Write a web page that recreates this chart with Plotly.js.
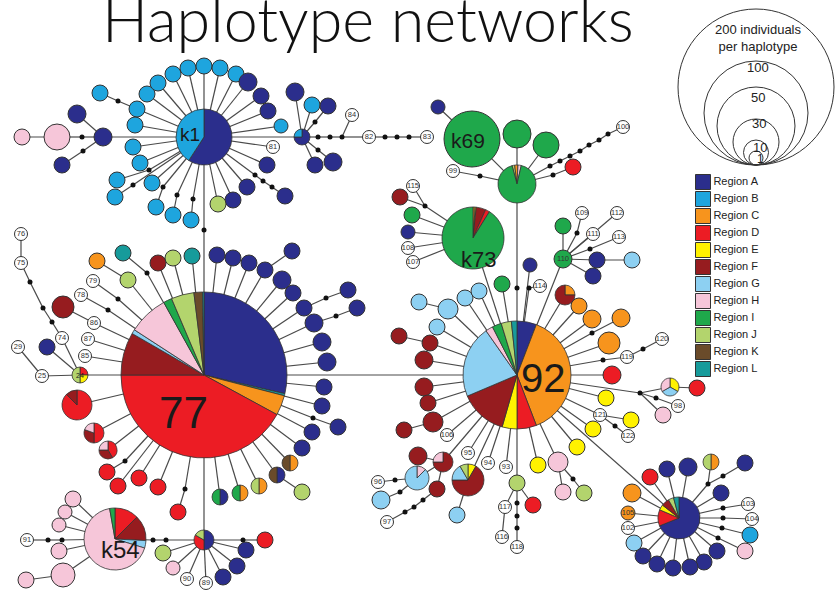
<!DOCTYPE html>
<html><head><meta charset="utf-8">
<script src="https://cdn.plot.ly/plotly-3.0.1.min.js"></script>
<style>html,body{margin:0;padding:0;background:#fff}#chart{width:836px;height:592px}</style>
</head><body><div id="chart"></div>
<script>
// ---------- DATA ----------
const regionCodes = ['A','B','C','D','E','F','G','H','I','J','K','L'];
const regionNames = ['Region A','Region B','Region C','Region D','Region E','Region F','Region G','Region H','Region I','Region J','Region K','Region L'];
const regionColors = ['#2b2e8c','#1ea5de','#f7941d','#ec1c24','#fff200','#961c1f','#8dd0f2','#f6c6d9','#1fa84b','#b3d46d','#6a4b2a','#179b9b'];

const sizeLegendLabels = ['200 individuals<br>per haplotype','100','50','30','10','1'];
const sizeLegendCounts = [200,100,50,30,10,1];
const sizeLegendRadii = [78,52,39,23,12.5,7];

// node rows: [id, x, y, radius, kind, parent, label]   kind: region code, 'P' pie, 'W' numbered empty, '.' mutation
const hubNodes = [
 ['h77',204,375,83,'P',null],
 ['h92',517,375,54,'P','h77'],
 ['k1d1',204,230,0,'.','h77'],
 ['k1',204,137,28,'P','k1d1'],
 ['d92a',517,288,0,'.','h92'],
 ['hub3',517,184,19,'P','d92a'],
 ['k69',472,139,28,'I','hub3'],
 ['k73',473,238,31,'P','h92'],
 ['hbr',679,518,21,'P','h92'],
 ['hub540',204,540,10,'P','h77'],
 ['d540b',166,540,0,'.','hub540'],
 ['d540a',153,540,0,'.','d540b'],
 ['k54',115,539,31,'P','d540a'],
 ['hub24',80,375,8,'P','h77'],
 ['hub2',302,137,8,'P','k1']
];
const k1Nodes = [
 ['b1',137,109,8,'B','k1'],['b1a',118,101,0,'.','b1'],['b1b',100,93,8,'B','b1a'],
 ['b2',147,94,8,'B','k1'],['b3',158,83,8,'B','k1'],['b4',173,74,8,'B','k1'],['b5',188,68,8,'B','k1'],
 ['b6',204,66,8,'B','k1'],['b7',220,68,8,'B','k1'],['b8',236,74,8,'B','k1'],
 ['a1',248,82,9,'A','k1'],['a2',261,96,8,'A','k1'],['a3',268,111,8,'A','k1'],
 ['b9',281,126,7,'B','k1'],['w81',273,147,6.5,'W','k1','81'],
 ['a4',267,165,8,'A','k1'],['a5',247,187,8,'A','k1'],
 ['a6d1',255,175,0,'.','k1'],['a6d2',263,181,0,'.','a6d1'],['a6d3',272,187,0,'.','a6d2'],['a6',285,196,8,'A','a6d3'],
 ['a7',233,200,8,'A','k1'],['j1',218,204,8,'J','k1'],
 ['b10d',193,199,0,'.','k1'],['b10',191,220,8,'B','b10d'],
 ['b11d',177,195,0,'.','k1'],['b11',173,215,8,'B','b11d'],
 ['b12d',163,187,0,'.','k1'],['b12',156,207,8,'B','b12d'],
 ['b13',152,183,8,'B','k1'],
 ['b14d',133,185,0,'.','k1'],['b14',115,197,8,'B','b14d'],
 ['b15',140,163,8,'B','k1'],
 ['b16d',149,170,0,'.','k1'],['b16',117,180,8,'B','b16d'],
 ['b17',135,125,8,'B','k1'],['b18',133,147,8,'B','k1'],
 ['a8',103,137,9,'A','k1'],['a9',77,114,9,'A','a8'],
 ['a10d',83,151,0,'.','a8'],['a10',62,165,8,'A','a10d'],
 ['k1l1',82,137,0,'.','a8'],['h1',57,137,13,'H','k1l1'],['h2',22,137,8,'H','h1'],
 ['a11',295,92,9,'A','hub2'],['b19',312,105,8,'B','hub2'],
 ['a12d',315,122,0,'.','hub2'],['a12',328,106,8,'A','a12d'],
 ['a13',315,165,8,'A','hub2'],['a14d',318,150,0,'.','hub2'],['a14',333,162,9,'A','a14d'],
 ['h2d1',318,137,0,'.','hub2'],['h2d2',330,137,0,'.','h2d1'],['h2d3',342,137,0,'.','h2d2'],
 ['w84',352,115,6.5,'W','h2d3','84'],['w82',369,137,6.5,'W','h2d3','82'],
 ['h2d4',385,137,0,'.','w82'],['h2d5',397,137,0,'.','h2d4'],['h2d6',409,137,0,'.','h2d5'],
 ['w83',427,137,6.5,'W','h2d6','83']
];
const k69Nodes = [
 ['a15',438,107,7,'A','k69'],
 ['i1',517,134,14,'I','hub3'],['i2',546,145,13,'I','hub3'],
 ['d99',480,176,0,'.','hub3'],['w99',453,171,6.5,'W','d99','99'],
 ['q1',550,166,0,'.','hub3'],['q2',560,161,0,'.','q1'],['q3',570,156,0,'.','q2'],['q4',580,151,0,'.','q3'],
 ['q5',589,145,0,'.','q4'],['q6',599,140,0,'.','q5'],['q7',608,134,0,'.','q6'],['w100',623,127,6.5,'W','q7','100'],
 ['dr1d',553,175,0,'.','hub3'],['d1',573,167,8,'D','dr1d']
];
const k73Nodes = [
 ['d115',425,206,0,'.','k73'],['w115',413,186,6.5,'W','d115','115'],['f1',400,197,8,'F','d115'],
 ['i3',412,215,8,'I','k73'],['a16',408,232,7,'A','k73'],
 ['w108',408,248,6.5,'W','k73','108'],['w107',413,262,6.5,'W','k73','107'],
 ['h110',563,259,9,'I','h92','110'],['i4',563,226,8,'I','h110'],
 ['d109',577,233,0,'.','h110'],['w109',582,213,6.5,'W','d109','109'],
 ['w112',617,213,6.5,'W','h110','112'],['w111',593,234,6.5,'W','h110','111'],
 ['d113',590,249,0,'.','h110'],['w113',619,237,6.5,'W','d113','113'],
 ['a17',597,260,8,'A','h110'],['g1',632,260,8,'G','a17'],['a18',593,276,8,'A','h110']
];
const n92Nodes = [
 ['a19',530,265,7,'A','h92'],['i5',502,284,8,'I','h92'],
 ['d114',529,288,0,'.','h92'],['w114',540,286,6.5,'W','d114','114'],
 ['fc1',565,295,10,'P','h92'],['c1',579,306,8,'C','h92'],['c2',592,319,9,'C','h92'],
 ['c3d',592,333,0,'.','h92'],['c3',621,318,9,'C','c3d'],['c4',609,343,11,'C','h92'],
 ['d119',603,360,0,'.','h92'],['w119',627,357,6.5,'W','d119','119'],['d120',643,349,0,'.','w119'],['w120',662,339,6.5,'W','d120','120'],
 ['d2',612,375,9,'D','h92'],
 ['d98a',640,393,0,'.','h92'],['heg',670,387,9,'P','d98a'],['d3',697,388,8,'D','heg'],
 ['d98b',656,398,0,'.','d98a'],['w98',678,406,6.5,'W','d98b','98'],['h3',663,415,8,'H','d98a'],
 ['e1',606,398,8,'E','h92'],
 ['w121',600,415,6.5,'W','h92','121'],['e2',631,420,8,'E','w121'],['d122',615,426,0,'.','w121'],['w122',628,436,6.5,'W','d122','122'],
 ['e3',593,429,8,'E','h92'],['e4',577,447,8,'E','h92'],['e5',538,465,8,'E','h92'],
 ['h4',558,462,10,'H','h92'],['h5',563,492,8,'H','h4'],['dj',573,479,0,'.','h4'],['j2',584,493,8,'J','dj'],
 ['j3',517,483,8,'J','h92'],['w117',505,507,6.5,'W','j3','117'],['w116',502,537,6.5,'W','w117','116'],['d4',533,505,8,'D','j3'],
 ['v1',517,503,0,'.','j3'],['v2',517,516,0,'.','v1'],['v3',517,528,0,'.','v2'],['w118',517,547,6.5,'W','v3','118'],
 ['w93',506,467,6.5,'W','h92','93'],['w94',488,463,6.5,'W','h92','94'],['w95',468,453,6.5,'W','h92','95'],
 ['mp',468,480,16,'P','h92'],['g2',457,515,8,'G','mp'],
 ['fh',443,462,10,'P','h92'],['f2',418,456,9,'F','fh'],['gh',417,478,12,'P','fh'],['f3',437,489,8,'F','fh'],
 ['d96',395,480,0,'.','gh'],['w96',378,482,6.5,'W','d96','96'],
 ['dg3',400,492,0,'.','gh'],['g3',381,500,9,'G','dg3'],
 ['d97a',423,500,0,'.','f3'],['d97b',414,507,0,'.','d97a'],['d97c',405,512,0,'.','d97b'],['w97',387,522,6.5,'W','d97c','97'],
 ['g4',448,309,10,'G','h92'],['g5',419,302,8,'G','g4'],['g6',465,298,8,'G','h92'],['g7',479,291,8,'G','h92'],
 ['g8',437,327,8,'G','h92'],['f4',430,343,8,'F','h92'],['f5',399,336,8,'F','f4'],
 ['f6',424,360,9,'F','h92'],['f7',424,387,9,'F','h92'],['f8',428,403,8,'F','h92'],
 ['f9',433,422,10,'F','h92'],['f10',404,430,8,'F','f9'],['w106',447,435,6.5,'W','h92','106']
];
const brNodes = [
 ['d5',650,477,8,'D','hbr'],['a20',667,469,8,'A','hbr'],['a21',688,467,9,'A','hbr'],
 ['dbr1',708,484,0,'.','hbr'],['jc1',711,462,8,'P','dbr1'],['dbr2',723,476,0,'.','dbr1'],['a22',745,463,8,'A','dbr2'],
 ['a23',721,493,8,'A','hbr'],
 ['dbr3',723,508,0,'.','hbr'],['w103',748,504,6.5,'W','dbr3','103'],
 ['dbr4',723,518,0,'.','hbr'],['w104',752,519,6.5,'W','dbr4','104'],
 ['dbr5',722,528,0,'.','hbr'],['b20',750,535,8,'B','dbr5'],
 ['dbr6',718,538,0,'.','hbr'],['h6',745,551,8,'H','dbr6'],
 ['a24',717,551,8,'A','hbr'],['a25',704,562,8,'A','hbr'],['a26',690,567,8,'A','hbr'],
 ['a27',673,568,8,'A','hbr'],['a28',657,564,8,'A','hbr'],['a29',643,556,8,'A','hbr'],
 ['g9',634,543,8,'G','hbr'],['w102',628,528,6.5,'W','hbr','102'],
 ['c5',628,513,7,'C','hbr','105'],['c6',632,493,9,'C','hbr']
];
const n77Nodes = [
 ['l1d',147,273,0,'.','h77'],['l1',123,253,8,'L','l1d'],
 ['j4',128,280,8,'J','h77'],['c7',97,261,8,'C','j4'],
 ['f11',158,263,8,'F','h77'],['j5',173,258,8,'J','h77'],['l2',192,256,8,'L','h77'],
 ['d79',118,299,0,'.','h77'],['w79',93,281,6.5,'W','d79','79'],
 ['d78',108,310,0,'.','h77'],['w78',81,295,6.5,'W','d78','78'],
 ['w86',94,323,6.5,'W','h77','86'],['f12',63,307,11,'F','w86'],
 ['w87',88,339,6.5,'W','h77','87'],['w85',85,356,6.5,'W','h77','85'],
 ['w74',62,338,6.5,'W','hub24','74'],['t1',52,322,0,'.','w74'],['t2',43,308,0,'.','t1'],['t3',30,282,0,'.','t2'],
 ['w75',21,263,6.5,'W','t3','75'],['w76',21,234,6.5,'W','w75','76'],
 ['a30',47,347,8,'A','hub24'],['w25',42,376,6.5,'W','hub24','25'],['w29',18,347,6.5,'W','w25','29'],
 ['df1',77,405,15,'P','h77'],['hfd1',94,433,10,'P','h77'],['hfd2',108,450,9,'P','h77'],
 ['d6d',125,461,0,'.','h77'],['d6',107,472,8,'D','d6d'],['d7',118,486,8,'D','h77'],
 ['d8',139,478,8,'D','h77'],['d9',158,487,8,'D','h77'],
 ['d10d',185,489,0,'.','h77'],['d10',178,512,8,'D','d10d'],
 ['ia',220,497,8,'P','h77'],['ic',240,493,8,'P','h77'],['jc2',259,486,8,'P','h77'],
 ['ka',277,475,8,'P','h77'],['j6',302,492,8,'J','ka'],['kc',290,463,8,'P','h77'],
 ['a31',302,448,8,'A','h77'],['a32',312,432,8,'A','h77'],['da33',313,418,0,'.','h77'],['a33',338,427,8,'A','da33'],
 ['a34',322,406,8,'A','h77'],['a35',324,387,8,'A','h77'],['a36',327,362,9,'A','h77'],['a37',322,342,9,'A','h77'],
 ['a38',314,323,9,'A','h77'],['da39',336,316,0,'.','a38'],['a39',357,308,8,'A','da39'],
 ['a40',304,308,8,'A','h77'],['da41',326,298,0,'.','a40'],['a41',348,290,8,'A','da41'],
 ['a42',293,293,8,'A','h77'],['a43',282,280,9,'A','h77'],['a44',265,270,8,'A','h77'],['a45',292,251,8,'A','a44'],
 ['a46',249,263,8,'A','h77'],['a47',233,258,8,'A','h77'],['a48',217,255,8,'A','h77']
];
const k54Nodes = [
 ['j7',163,553,8,'J','hub540'],['h7',173,568,7,'H','hub540'],
 ['w90',187,579,6.5,'W','hub540','90'],['w89',206,583,6.5,'W','hub540','89'],
 ['a49',223,577,8,'A','hub540'],['a50',237,566,8,'A','hub540'],['a51',246,550,8,'A','hub540'],
 ['d540c',243,540,0,'.','hub540'],['d11',265,540,8,'D','d540c'],
 ['h8',73,499,8,'H','k54'],['h9',65,512,7,'H','k54'],['h10',59,525,7,'H','k54'],
 ['d54a',62,540,0,'.','k54'],['d54b',48,540,0,'.','d54a'],['w91',27,540,6.5,'W','d54b','91'],
 ['h11',59,551,8,'H','k54'],['h12',63,575,12,'H','k54'],['h13',26,580,8,'H','h12']
];

// pie compositions (degrees, clockwise from 12 o'clock), optional rotation
const pieComposition = {
 h77:[['A',103],['L',1.5],['C',14],['D',151.5],['F',30],['G',3],['H',28],['I',6],['J',16],['K',6],['L',1]],
 h92:[['A',21],['C',138],['D',21],['E',16],['F',51],['G',78],['H',8],['I',10],['J',11],['L',6]],
 k1:[['A',213],['B',147]],
 k73:[['C',4],['E',2],['F',18],['D',8],['I',328]],
 k54:[['D',45],['F',48],['G',14],['H',243],['I',10]],
 hbr:[['A',248],['D',45],['E',15],['F',22],['J',15],['L',15]],
 hub3:[['J',8],['C',10],['H',10],['I',332]],
 hub540:[['A',180],['D',120],['J',60]],
 hub24:[['D',90],['E',90],['J',180]],
 hub2:[['A',270],['B',90]],
 fc1:[['C',90],['F',270]],
 heg:[['E',120],['G',120],['H',120]],
 mp:[['E',30],['F',240],['G',60],['J',30]],
 fh:[['F',270],['H',90]],
 gh:[['H',45],['G',315]],
 jc1:[['C',180],['J',180]],
 df1:[['D',315],['F',45]],
 hfd1:[['D',180],['F',110],['H',70]],
 hfd2:[['D',150],['F',120],['H',90]],
 ia:[['A',180],['I',180]],
 ic:[['C',180],['I',180]],
 jc2:[['C',180],['J',180]],
 ka:[['A',180],['K',180]],
 kc:[['C',180],['K',180]]
};
const pieRotation = {hub3:-15};

const hubLabels = [['77',183,412,44],['92',543,378,40],['k1',190,134,19],['k69',468,140,21],['k73',478,259,22],['k54',120,549,24],['24',80,375,7]];

// ---------- BUILD ----------
const W = 836, H = 592;
const allNodes = [].concat(hubNodes,k1Nodes,k69Nodes,k73Nodes,n92Nodes,brNodes,n77Nodes,k54Nodes);
const byId = {};
allNodes.forEach(n => byId[n[0]] = n);
const colorOf = c => regionColors[regionCodes.indexOf(c)];

const ex = [], ey = [];
allNodes.forEach(n => {
  if (n[5] && byId[n[5]]) { const p = byId[n[5]]; ex.push(n[1], p[1], null); ey.push(n[2], p[2], null); }
});
const traces = [];
traces.push({type:'scatter', mode:'lines', x:ex, y:ey, line:{color:'#4a4a4a', width:1.2}, hoverinfo:'skip'});

const dots = allNodes.filter(n => n[4] === '.');
traces.push({type:'scatter', mode:'markers', x:dots.map(n=>n[1]), y:dots.map(n=>n[2]),
  marker:{size:5, color:'#111', opacity:1, line:{width:0}}, hoverinfo:'skip'});

const solid = allNodes.filter(n => n[4] !== '.' && n[4] !== 'P');
traces.push({type:'scatter', mode:'markers+text', x:solid.map(n=>n[1]), y:solid.map(n=>n[2]),
  text:solid.map(n=>n[6]||''), textposition:'middle center',
  textfont:{family:'Arial', size:7.5, color:'#333'},
  marker:{size:solid.map(n=>2*n[3]), opacity:1, color:solid.map(n=>n[4]==='W'?'#ffffff':colorOf(n[4])),
          line:{color:'#333', width:1}}, hoverinfo:'skip'});

// legend squares
traces.push({type:'scatter', mode:'markers+text', x:regionCodes.map(()=>703), y:regionCodes.map((c,i)=>182+17*i),
  text:regionNames, textposition:'middle right', textfont:{family:'Arial', size:11, color:'#222'},
  marker:{symbol:'square', size:15, opacity:1, color:regionColors, line:{color:'#333', width:1}}, hoverinfo:'skip'});

allNodes.filter(n => n[4] === 'P').forEach(n => {
  const comp = pieComposition[n[0]];
  const x = n[1], y = n[2], r = n[3];
  traces.push({type:'pie', sort:false, direction:'clockwise', rotation:pieRotation[n[0]]||0,
    values:comp.map(s=>s[1]), labels:comp.map((s,i)=>s[0]+i),
    marker:{colors:comp.map(s=>colorOf(s[0])), line:{color:'#333', width:0.8}},
    textinfo:'none', hoverinfo:'skip', showlegend:false,
    domain:{x:[(x-r)/W,(x+r)/W], y:[1-(y+r)/H, 1-(y-r)/H]}});
});

const shapes = sizeLegendRadii.map(r => ({type:'circle', xref:'x', yref:'y',
  x0:756-r, x1:756+r, y0:165-2*r, y1:165, line:{color:'#333', width:1}}));

const labelY = [38,67,97,123,147,159];
const labelX = [758,758,758,759,760,760];
const labelSize = [13,13,13,13,13,12];
const annotations = [];
sizeLegendLabels.forEach((t,i)=> annotations.push({x:labelX[i], y:labelY[i], xref:'x', yref:'y', text:t,
  showarrow:false, font:{family:'Arial', size:labelSize[i], color:'#222'}}));
hubLabels.forEach(l => annotations.push({x:l[1], y:l[2], xref:'x', yref:'y', text:l[0], showarrow:false,
  font:{family:'Arial', size:l[3], color:'#1a1a1a'}}));
annotations.push({x:368, y:57, xref:'x', yref:'y', yanchor:'bottom', text:'Haplotype networks', showarrow:false,
  font:{family:'Lato', size:61, weight:300, color:'#111'}});

const layout = {width:W, height:H, margin:{l:0,r:0,t:0,b:0}, paper_bgcolor:'#fff', plot_bgcolor:'#fff',
  showlegend:false,
  xaxis:{range:[0,W], visible:false, fixedrange:true},
  yaxis:{range:[H,0], visible:false, fixedrange:true},
  shapes:shapes, annotations:annotations};
Plotly.newPlot('chart', traces, layout, {staticPlot:true, displayModeBar:false});
</script></body></html>
